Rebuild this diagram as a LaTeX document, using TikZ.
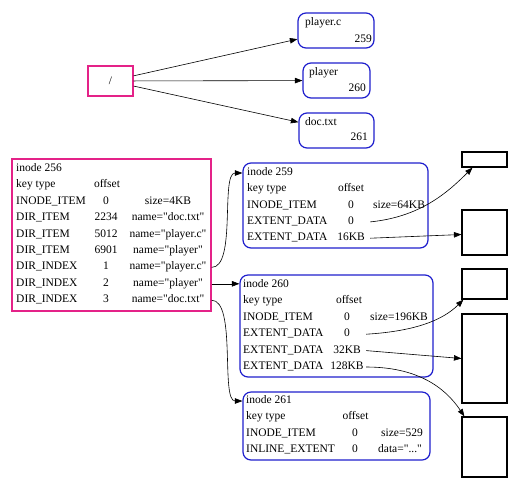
\documentclass[tikz,border=0pt]{standalone}
\usepackage{fontspec}
\setmainfont{Liberation Serif}
\usetikzlibrary{arrows.meta}
\definecolor{dirpink}{RGB}{228,34,136}
\definecolor{inodeblue}{RGB}{30,30,205}
\newcommand{\qt}{\textquotedbl}

\begin{document}
\begin{tikzpicture}[x=1pt,y=-1pt,
  font=\fontsize{11.5pt}{13pt}\selectfont,
  lbl/.style={inner sep=0pt,text height=7.5pt,text depth=2.5pt},
  lft/.style={lbl,anchor=west},
  rgt/.style={lbl,anchor=east},
  off/.style={lbl,minimum width=38pt},
  pbox/.style={draw=dirpink,line width=1.2pt,inner sep=0pt},
  ibox/.style={draw=inodeblue,line width=1.2pt,rounded corners=8pt,inner sep=0pt},
  blk/.style={draw,line width=1.2pt,inner sep=0pt,minimum width=45pt},
  arr/.style={-{Triangle[length=7.5pt,width=5.5pt]},line width=0.6pt}]
  \useasboundingbox (0,0) rectangle (518,488);

  % root directory and its names
  \node[pbox,minimum width=45pt,minimum height=30pt] (root) at (110.5,81) {/};
  \node[ibox,minimum width=76pt,minimum height=35pt] (pc) at (336,30.5) {};
  \node[lft] (pcname) at (305,23) {player.c};
  \node[rgt] (pcnum) at (372,39.5) {259};
  \node[ibox,minimum width=67pt,minimum height=35pt] (pl) at (336.5,80.5) {};
  \node[lft] (plname) at (309,73) {player};
  \node[rgt] (plnum) at (366,89) {260};
  \node[ibox,minimum width=75pt,minimum height=35pt] (dt) at (336.5,130.5) {};
  \node[lft] (dtname) at (305,123) {doc.txt};
  \node[rgt] (dtnum) at (368,138) {261};

  \draw[arr] (root) -- (pc);
  \draw[arr] (root) -- (pl);
  \draw[arr] (root) -- (dt);

  % inode 256
  \node[pbox,minimum width=199pt,minimum height=152pt] (in256) at (111.5,235) {};
  \node[lft] (h256) at (16,169) {inode 256};
  \node[lft] (k256) at (16,185.4) {key type};
  \node[lbl] (o256) at (107,185.4) {offset};
  \node[lft] (a1) at (16,201.8) {INODE\_ITEM};
  \node[lbl] (a2) at (106,201.8) {0};
  \node[lbl] (a3) at (168,201.8) {size=4KB};
  \node[lft] (b1) at (16,218.2) {DIR\_ITEM};
  \node[lbl] (b2) at (106,218.2) {2234};
  \node[lbl] (b3) at (168,218.2) {name=\qt doc.txt\qt};
  \node[lft] (c1) at (16,234.6) {DIR\_ITEM};
  \node[lbl] (c2) at (106,234.6) {5012};
  \node[lbl] (c3) at (168,234.6) {name=\qt player.c\qt};
  \node[lft] (e1) at (16,251) {DIR\_ITEM};
  \node[lbl] (e2) at (106,251) {6901};
  \node[lbl] (e3) at (168,251) {name=\qt player\qt};
  \node[lft] (f1) at (16,267.4) {DIR\_INDEX};
  \node[lbl] (f2) at (106,267.4) {1};
  \node[lbl] (d1) at (168,267.4) {name=\qt player.c\qt};
  \node[lft] (g1) at (16,283.8) {DIR\_INDEX};
  \node[lbl] (g2) at (106,283.8) {2};
  \node[lbl] (d2) at (168,283.8) {name=\qt player\qt};
  \node[lft] (j1) at (16,300.2) {DIR\_INDEX};
  \node[lbl] (j2) at (106,300.2) {3};
  \node[lbl] (d3) at (168,300.2) {name=\qt doc.txt\qt};

  % inode 259
  \node[ibox,minimum width=185pt,minimum height=85pt] (in259) at (335.5,205.5) {};
  \node[lft] (h259) at (247,173) {inode 259};
  \node[lft] (k259) at (247,189.3) {key type};
  \node[lbl] (o259) at (351,189.3) {offset};
  \node[lft] (t259a) at (247,205.6) {INODE\_ITEM};
  \node[off] (v259a) at (351,205.6) {0};
  \node[lbl] (s259) at (399,205.6) {size=64KB};
  \node[lft] (t259b) at (247,221.9) {EXTENT\_DATA};
  \node[off] (e259a) at (351,221.9) {0};
  \node[lft] (t259c) at (247,238.2) {EXTENT\_DATA};
  \node[off] (e259b) at (351,238.2) {16KB};

  % inode 260
  \node[ibox,minimum width=193pt,minimum height=102pt] (in260) at (336.5,326) {};
  \node[lft] (h260) at (243,285) {inode 260};
  \node[lft] (k260) at (243,301.4) {key type};
  \node[lbl] (o260) at (349,301.4) {offset};
  \node[lft] (t260a) at (243,317.8) {INODE\_ITEM};
  \node[off] (v260a) at (347,317.8) {0};
  \node[lbl] (s260) at (399,317.8) {size=196KB};
  \node[lft] (t260b) at (243,334.2) {EXTENT\_DATA};
  \node[off] (e260a) at (347,334.2) {0};
  \node[lft] (t260c) at (243,350.6) {EXTENT\_DATA};
  \node[off] (e260b) at (347,350.6) {32KB};
  \node[lft] (t260d) at (243,367) {EXTENT\_DATA};
  \node[off] (e260c) at (347,367) {128KB};

  % inode 261
  \node[ibox,minimum width=187pt,minimum height=68pt] (in261) at (336.5,426) {};
  \node[lft] (h261) at (246,401) {inode 261};
  \node[lft] (k261) at (246,417.4) {key type};
  \node[lbl] (o261) at (355.5,417.4) {offset};
  \node[lft] (t261a) at (246,433.8) {INODE\_ITEM};
  \node[lbl] (v261a) at (355,433.8) {0};
  \node[lbl] (s261) at (402,433.8) {size=529};
  \node[lft] (t261b) at (246,450.2) {INLINE\_EXTENT};
  \node[lbl] (v261b) at (355,450.2) {0};
  \node[lbl] (x261) at (400,450.2) {data=\qt...\qt};

  % data extents
  \node[blk,minimum height=15pt] (x1) at (484.5,159.5) {};
  \node[blk,minimum height=45pt] (x2) at (484.5,232.5) {};
  \node[blk,minimum height=30pt] (x3) at (484.5,284) {};
  \node[blk,minimum height=89pt] (x4) at (484.5,358.5) {};
  \node[blk,minimum height=60pt] (x5) at (484.5,447) {};

  \draw[arr] (in256.east |- d1) .. controls +(25,0) and +(-22,0) .. (in259.west |- h259);
  \draw[arr] (in256.east |- d2) -- (in260.west |- d2);
  \draw[arr] (in256.east |- d3) .. controls +(25,0) and +(-22,0) .. (in261.west |- h261);

  \draw[arr] (e259a.east) .. controls +(50,-5) and +(-25,25) .. ([xshift=-12pt]x1.south);
  \draw[arr] (e259b.east) -- ([yshift=-2pt]x2.west);
  \draw[arr] (e260a.east) .. controls +(50,-3) and +(-20,20) .. ([xshift=2pt]x3.south west);
  \draw[arr] (e260b.east) -- (x4.west);
  \draw[arr] (e260c.east) .. controls +(50,0) and +(-20,-30) .. ([xshift=3pt]x5.north west);
\end{tikzpicture}
\end{document}
